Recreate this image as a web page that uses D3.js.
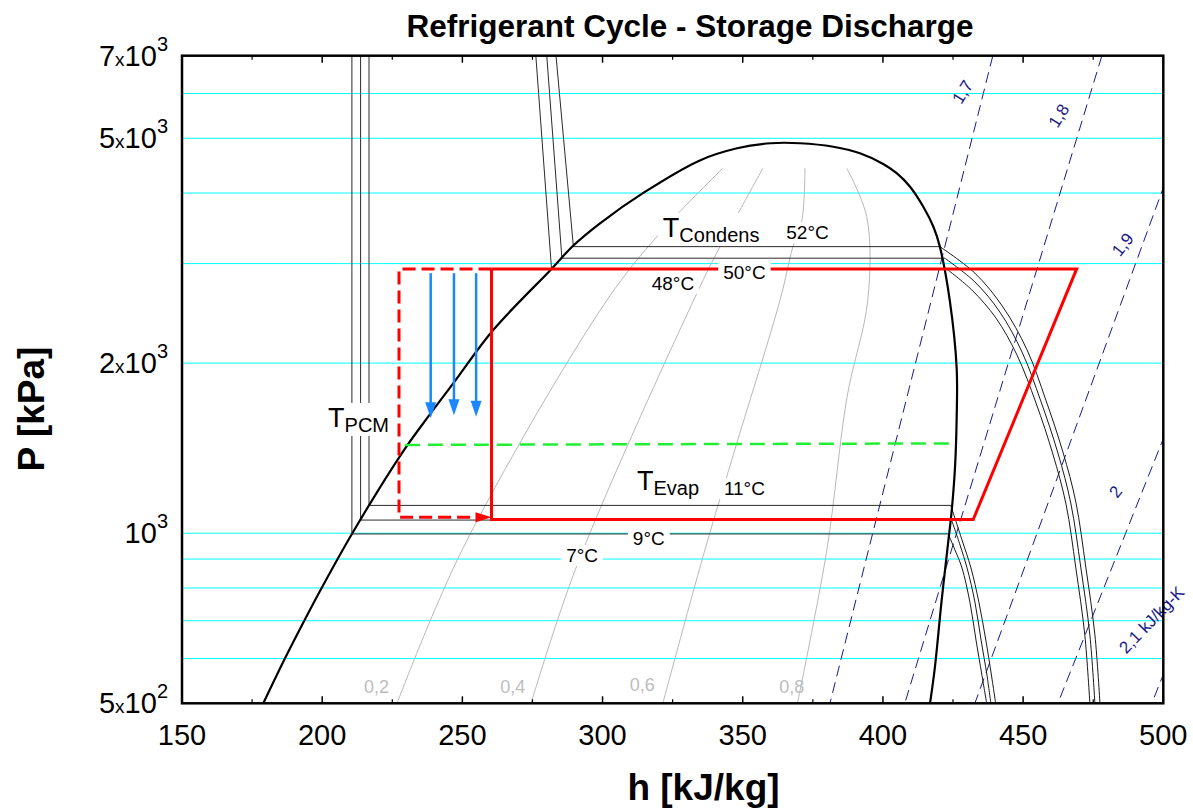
<!DOCTYPE html>
<html><head><meta charset="utf-8">
<script src="https://cdn.jsdelivr.net/npm/d3@7"></script>
<style>
body{margin:0;background:#fff;}
svg{display:block;font-family:"Liberation Sans",Arial,sans-serif;}
</style></head><body>
<svg id="c" width="1193" height="809"></svg>
<script>
// ---------------- DATA ----------------
// saturation dome (h kJ/kg, P kPa)
const domeH = [179.0,186.7,193.6,199.8,210.6,228.4,237.8,246.8,261.0,281.8,289.6,299.1,314.8,334.7,348.0,360.0,370.4,382.3,391.8,400.1,404.9,409.6,414.4,418.0,420.3,423.9,426.3,426.3,425.7,424.5,423.3,420.9,418.5,416.8];
const domeP = [500,600,700,800,997,1385,1608,1843,2289,2936,3230,3536,4010,4569,4800,4900,4900,4830,4704,4503,4337,4108,3782,3486,3215,2570,1959,1600,1305,1092,966,757,577,500];

// pressure gridlines
const gridP = [600,700,800,900,1000,2000,3000,4000,5000,6000];
const xTicks = [150,200,250,300,350,400,450,500];
const xMinor = [175,225,275,325,375,425,475];
const yTickVals = [500,1000,2000,5000,7000];
const yTickMant = ["5","","2","5","7"];
const yTickExp = ["2","3","3","3","3"];

// isotherms
const isoNames   = ["7°C","9°C","11°C","48°C","50°C","52°C"];
const isoSatP    = [997,1055,1120,2936,3067,3215];
const isoLiqTopH = [210.6,213.7,216.7,276.2,280.1,283.4];
const isoLiqH    = [210.6,213.7,216.7,281.8,285.5,289.6];
const isoVapH    = [423.3,424.5,424.2,422.7,422.1,420.3];
const sup7H  = [423.3,425.7,428.2,431.0,433.2,435.3,437.0];
const sup7P  = [997,934,868,756,647,561,500];
const sup9H  = [424.5,427.5,430.0,432.8,435.0,437.1,438.5];
const sup9P  = [1055,953,868,756,647,561,500];
const sup11H = [424.2,428.2,431.4,434.2,436.7,438.7,440.2];
const sup11P = [1120,973,868,756,647,561,500];
const sup48H = [422.7,431.7,440.3,447.8,454.6,460.6,465.3,468.8,472.0,473.8];
const sup48P = [2936,2695,2404,2068,1700,1381,1126,868,661,500];
const sup50H = [422.1,432.8,441.7,449.6,456.3,462.4,467.0,470.6,473.8,475.6];
const sup50P = [3067,2784,2463,2093,1714,1387,1131,868,661,500];
const sup52H = [420.3,432.8,442.8,451.4,458.1,464.2,468.8,472.4,475.6,477.4];
const sup52P = [3215,2886,2514,2111,1721,1392,1136,868,661,500];

// quality lines
const qNames = ["0,2","0,4","0,6","0,8"];
const q2H = [226.7,249.9,301.6,321.5,342.9];            const q2P = [500,934,2586,3441,4424];
const q4H = [274.5,290.9,334.7,342.6,349.0,357.2];      const q4P = [500,878,2728,3264,3732,4424];
const q6H = [321.5,336.5,347.9,363.3,367.9,371.1,372.2];const q6P = [500,934,1444,2586,3215,3579,4424];
const q8H = [369.5,380.0,387.2,394.6,394.2,387.1];      const q8P = [500,934,1742,2586,3633,4424];

// entropy lines (kJ/kg-K)
const sNames = ["1,7","1,8","1,9","2","2,1 kJ/kg-K"];
const sTopH  = [439.2,478.1,517.2,554.4,588.3];   // at P = 7000
const sBotH  = [381.1,407.8,432.8,462.4,495.9];   // at P = 500

// refrigerant cycle
const cycleH = [260.4,469.1,432.2,260.4,260.4];
const cycleP = [2936,2936,1057,1057,2936];
const pcmH = [260.4,227.4,227.4,260.4];
const pcmP = [2936,2936,1067,1067];
const arrowH = [238.7,247.0,254.9];
const arrowTopP = [2885,2885,2885];
const arrowBotP = [1598,1618,1608];
const greenH = [229.5,425.7];
const greenP = [1433,1442];

// ---------------- LAYOUT ----------------
const L=182, R=1163.3, T=55.7, B=703.3;
const x = d3.scaleLinear().domain([150,500]).range([L,R]);
const y = d3.scaleLog().domain([500,7000]).range([B,T]);
const svg = d3.select("#c");
const zip = (a,b)=>a.map((v,i)=>[v,b[i]]);
const lin = d3.line().x(d=>x(d[0])).y(d=>y(d[1]));
const smooth = d3.line().x(d=>x(d[0])).y(d=>y(d[1])).curve(d3.curveCatmullRom.alpha(0.5));

svg.append("rect").attr("width",1193).attr("height",809).attr("fill","#fff");
svg.append("defs").append("clipPath").attr("id","clip")
  .append("rect").attr("x",L).attr("y",T).attr("width",R-L).attr("height",B-T);
const g = svg.append("g").attr("clip-path","url(#clip)");

// grid
g.selectAll("line.grid").data(gridP).join("line").attr("class","grid")
  .attr("x1",L).attr("x2",R).attr("y1",d=>y(d)).attr("y2",d=>y(d))
  .attr("stroke","#00ffff").attr("stroke-width",1);

// quality lines
[zip(q2H,q2P),zip(q4H,q4P),zip(q6H,q6P),zip(q8H,q8P)].forEach(pts=>{
  g.append("path").attr("d",smooth(pts)).attr("fill","none").attr("stroke","#b8b8b8").attr("stroke-width",1);
});

// entropy lines
sNames.forEach((n,i)=>{
  g.append("path").attr("d",lin([[sTopH[i],7000],[sBotH[i],500]]))
   .attr("fill","none").attr("stroke","#1a1a8a").attr("stroke-width",1)
   .attr("stroke-dasharray","11,6");
});

// isotherms
const supH=[sup7H,sup9H,sup11H,sup48H,sup50H,sup52H];
const supP=[sup7P,sup9P,sup11P,sup48P,sup50P,sup52P];
isoNames.forEach((n,i)=>{
  g.append("path").attr("d",lin([[isoLiqTopH[i],7000],[isoLiqH[i],isoSatP[i]],[isoVapH[i],isoSatP[i]]]))
   .attr("fill","none").attr("stroke","#2a2a2a").attr("stroke-width",1);
  g.append("path").attr("d",smooth(zip(supH[i],supP[i])))
   .attr("fill","none").attr("stroke","#1a1a1a").attr("stroke-width",1);
});

// dome
g.append("path").attr("d",smooth(zip(domeH,domeP))).attr("fill","none")
  .attr("stroke","#000").attr("stroke-width",2.2);

// green dashed
g.append("path").attr("d",lin(zip(greenH,greenP))).attr("fill","none")
  .attr("stroke","#22ee33").attr("stroke-width",2.5).attr("stroke-dasharray","15,8");

// red cycle
g.append("path").attr("d",lin(zip(cycleH,cycleP))).attr("fill","none")
  .attr("stroke","#ff0000").attr("stroke-width",3).attr("stroke-linejoin","miter");

function head(tx,ty,ux,uy,len,hw,color){
  const bx=tx-ux*len, by=ty-uy*len, nx=-uy, ny=ux;
  svg.append("path").attr("d",`M${tx},${ty}L${bx+nx*hw},${by+ny*hw}L${bx-nx*hw},${by-ny*hw}Z`).attr("fill",color);
}
// red dashed PCM path with arrow
{
  const pts = zip(pcmH,pcmP);
  const tip=[x(pts[3][0]),y(pts[3][1])];
  const p = pts.map(d=>[x(d[0]),y(d[1])]);
  p[3]=[tip[0]-14,tip[1]];
  svg.append("path").attr("d",d3.line()(p)).attr("fill","none").attr("stroke","#ff0000")
    .attr("stroke-width",3).attr("stroke-dasharray","13,6");
  head(tip[0],tip[1],1,0,16,5,"#ff0000");
}
// blue arrows
arrowH.forEach((h,i)=>{
  const x0=x(h), y0=y(arrowTopP[i]), y1=y(arrowBotP[i]);
  svg.append("line").attr("x1",x0).attr("x2",x0).attr("y1",y0).attr("y2",y1-14)
    .attr("stroke","#1a86ff").attr("stroke-width",2.5);
  head(x0,y1,0,1,16,5.5,"#1a86ff");
});

// labels with white background
function bgLabel(parts, px, py, anchor){
  const t = svg.append("text").attr("x",px).attr("y",py).attr("text-anchor",anchor||"start").attr("fill","#000");
  parts.forEach(p=>{
    const s=t.append("tspan").text(p.t).attr("font-size",p.s);
    if(p.dy) s.attr("dy",p.dy);
  });
  const bb=t.node().getBBox();
  svg.insert("rect",()=>t.node()).attr("x",bb.x-5).attr("y",bb.y).attr("width",bb.width+10).attr("height",bb.height).attr("fill","#fff");
  return t;
}
// subscripted T labels (anchored at left of "T", baseline of "T")
const tLabels=[{sub:"PCM",h:202.1,P:1542},{sub:"Condens",h:321.5,P:3346},{sub:"Evap",h:312.3,P:1193}];
tLabels.forEach(d=>bgLabel([{t:"T",s:27},{t:d.sub,s:20,dy:5}],x(d.h),y(d.P),"start"));
// isotherm value labels (centre, baseline)
const isoLabH=[292.7,316.5,350.6,325.1,350.6,373.1];
const isoLabP=[889,953,1169,2697,2820,3314];
isoNames.forEach((n,i)=>bgLabel([{t:n,s:19}],x(isoLabH[i]),y(isoLabP[i]),"middle"));

// quality labels
const qLabH=[219.4,268.0,314.2,367.5];
const qLabP=[521,521,525,521];
qNames.forEach((n,i)=>svg.append("text").attr("x",x(qLabH[i])).attr("y",y(qLabP[i]))
  .attr("text-anchor","middle").attr("font-size",18).attr("fill","#bdbdbd").text(n));

// entropy labels
const sLabH=[428.5,462.8,485.6,483.1,495.9];
const sLabP=[6035,5480,3240,1183,702];
const sLabA=[-58,-58,-52,-52,-46];
sNames.forEach((n,i)=>svg.append("text")
  .attr("transform",`translate(${x(sLabH[i])},${y(sLabP[i])}) rotate(${sLabA[i]})`)
  .attr("text-anchor","middle").attr("dominant-baseline","central")
  .attr("font-size",17).attr("fill","#1a1a8a").text(n));

// frame
svg.append("rect").attr("x",L).attr("y",T).attr("width",R-L).attr("height",B-T)
  .attr("fill","none").attr("stroke","#000").attr("stroke-width",2.5);
// ticks
xTicks.forEach(v=>{
  svg.append("line").attr("x1",x(v)).attr("x2",x(v)).attr("y1",B).attr("y2",B-7).attr("stroke","#000").attr("stroke-width",1.5);
  svg.append("line").attr("x1",x(v)).attr("x2",x(v)).attr("y1",T).attr("y2",T+7).attr("stroke","#000").attr("stroke-width",1.5);
  svg.append("text").attr("x",x(v)).attr("y",745).attr("text-anchor","middle").attr("font-size",29).text(v);
});
xMinor.forEach(v=>{
  svg.append("line").attr("x1",x(v)).attr("x2",x(v)).attr("y1",B).attr("y2",B-4).attr("stroke","#000").attr("stroke-width",1.2);
  svg.append("line").attr("x1",x(v)).attr("x2",x(v)).attr("y1",T).attr("y2",T+4).attr("stroke","#000").attr("stroke-width",1.2);
});
yTickVals.forEach((v,i)=>{
  const t=svg.append("text").attr("x",168).attr("y",y(v)+10).attr("text-anchor","end").attr("font-size",29);
  if(yTickMant[i]){ t.append("tspan").text(yTickMant[i]); t.append("tspan").attr("font-size",19).text("x"); }
  t.append("tspan").text("10");
  t.append("tspan").attr("font-size",20).attr("dy",-15).text(yTickExp[i]);
});

// titles
svg.append("text").attr("x",690).attr("y",37).attr("text-anchor","middle")
  .attr("font-size",31.5).attr("font-weight","bold").text("Refrigerant Cycle - Storage Discharge");
svg.append("text").attr("x",703.5).attr("y",800).attr("text-anchor","middle")
  .attr("font-size",37).attr("font-weight","bold").text("h [kJ/kg]");
svg.append("text").attr("transform","translate(43.5,409) rotate(-90)").attr("text-anchor","middle")
  .attr("font-size",37).attr("font-weight","bold").text("P [kPa]");
</script>
</body></html>
